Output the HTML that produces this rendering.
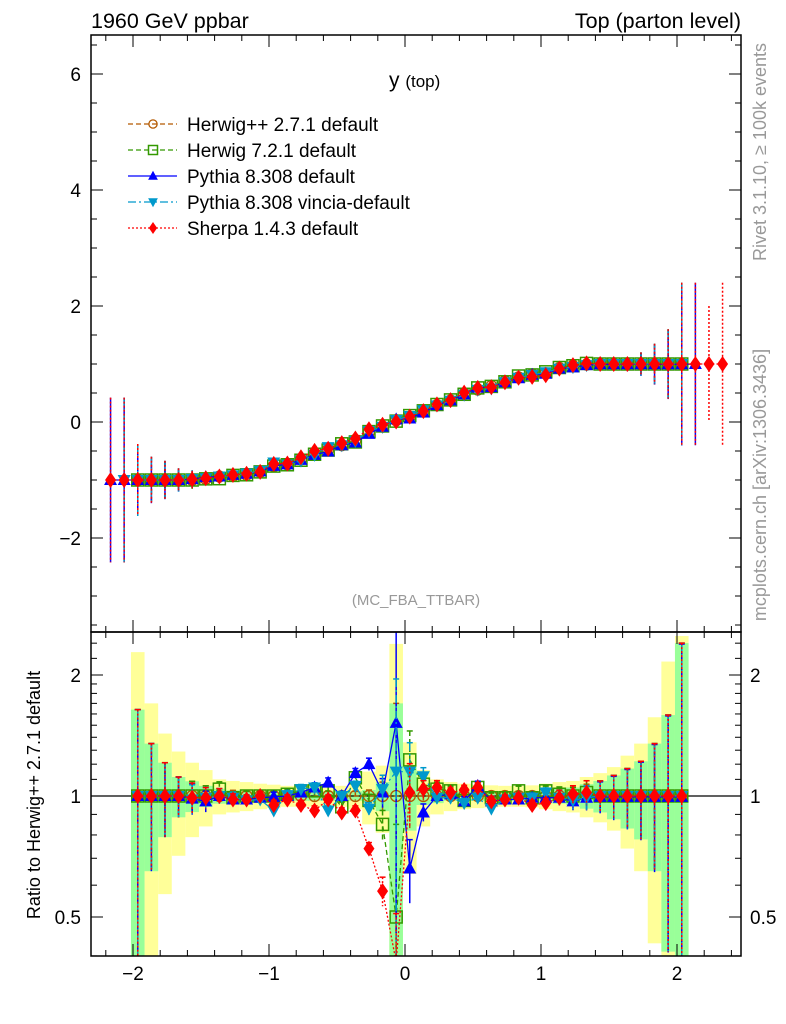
<!DOCTYPE html>
<html><head><meta charset="utf-8"><style>
html,body{margin:0;background:#fff;overflow:hidden;width:786px;height:1024px}
svg{display:block;font-family:"Liberation Sans",sans-serif}
</style></head><body>
<svg id="c" width="786" height="1024" viewBox="0 0 786 1024" xmlns="http://www.w3.org/2000/svg">
<defs>
<clipPath id="cm"><rect x="91" y="35" width="650" height="597"/></clipPath>
<clipPath id="cr"><rect x="91" y="632" width="650" height="324"/></clipPath>
</defs>
<text x="91" y="28" font-size="21.5">1960 GeV ppbar</text>
<text x="741" y="28" font-size="21.5" text-anchor="end">Top (parton level)</text>
<text x="389" y="87" font-size="21">y <tspan font-size="17">(top)</tspan></text>
<text x="416" y="605" font-size="15" fill="#999" text-anchor="middle">(MC_FBA_TTBAR)</text>
<text transform="translate(766,152) rotate(-90)" font-size="18" fill="#999" text-anchor="middle">Rivet 3.1.10, ≥ 100k events</text>
<text transform="translate(766,485) rotate(-90)" font-size="18" fill="#999" text-anchor="middle">mcplots.cern.ch [arXiv:1306.3436]</text>
<text transform="translate(40,795) rotate(-90)" font-size="18" text-anchor="middle">Ratio to Herwig++ 2.7.1 default</text>
<g id="bands" clip-path="url(#cr)"></g>
<g id="mainMarks" clip-path="url(#cm)"></g>
<g id="ratioMarks" clip-path="url(#cr)"></g>
<g id="axes"></g>
<g id="legend"></g>
</svg>
<script>
const binCenters=[-2.165,-2.065,-1.965,-1.865,-1.765,-1.665,-1.565,-1.465,-1.365,-1.265,-1.165,-1.065,-0.965,-0.865,-0.765,-0.665,-0.565,-0.465,-0.365,-0.265,-0.165,-0.065,0.035,0.135,0.235,0.335,0.435,0.535,0.635,0.735,0.835,0.935,1.035,1.135,1.235,1.335,1.435,1.535,1.635,1.735,1.835,1.935,2.035,2.135,2.235,2.335];
const profileValues=[-1,-1,-1,-1,-1,-1,-1,-0.98,-0.94,-0.93,-0.91,-0.86,-0.76,-0.73,-0.64,-0.54,-0.47,-0.40,-0.31,-0.17,-0.08,0.03,0.09,0.18,0.29,0.37,0.49,0.56,0.62,0.70,0.77,0.82,0.84,0.93,0.97,0.99,1,1,1,1,1,1,1,1,1,1];
const mainErr=[1.42,1.42,0.62,0.4,0.33,0.2,0.15,0.1,0.03,0.03,0.03,0.03,0.03,0.03,0.03,0.03,0.03,0.03,0.03,0.03,0.03,0.03,0.03,0.03,0.03,0.03,0.03,0.03,0.03,0.03,0.03,0.03,0.03,0.03,0.03,0.03,0.05,0.08,0.12,0.2,0.35,0.6,1.4,1.4,1.0,1.4];
// ratio arrays for bins k=2..42
const greenErr=[0.64,0.35,0.21,0.115,0.088,0.06,0.043,0.033,0.027,0.027,0.027,0.027,0.027,0.027,0.027,0.027,0.027,0.035,0.083,0.70,0.18,0.05,0.04,0.027,0.027,0.027,0.027,0.027,0.027,0.027,0.027,0.043,0.05,0.07,0.09,0.125,0.17,0.22,0.35,0.59,1.4];
const yellowErr=[1.28,0.70,0.43,0.29,0.21,0.16,0.10,0.09,0.083,0.073,0.067,0.06,0.06,0.06,0.06,0.06,0.073,0.15,0.19,1.39,0.36,0.16,0.10,0.083,0.073,0.067,0.063,0.06,0.06,0.063,0.073,0.083,0.09,0.115,0.14,0.18,0.26,0.35,0.57,1.16,1.5];
const ratioHerwigPP=[1,1,1,1,1,1,1,1,1,1,1,1,1,1,1,1,1,1,1,1,1,1,1,1,1,1,1,1,1,1,1,1,1,1,1,1,1,1,1,1,1];
const ratioHerwig7=[1,1,1,1,1,1,1.04,0.99,1,1,1,1.01,1.03,1.03,1.03,0.94,1.11,0.975,0.85,0.5,1.23,1.07,1.04,1.03,0.975,1.05,0.99,0.99,1.03,0.99,1.03,1.01,1,1.02,1,1,1,1,1,1,1];
const ratioPythia=[1,1,1,1,0.985,0.97,1,0.98,0.98,0.99,0.995,1,1.02,1.05,1.08,1,1.14,1.2,1.02,1.52,0.66,0.91,1,1.01,0.97,1.06,0.97,0.98,0.98,0.99,0.99,0.99,0.97,0.99,0.995,0.995,0.995,0.995,0.995,0.995,0.995];
const ratioVincia=[1,1,1,1,0.98,0.99,1,0.99,0.975,0.98,0.92,1.005,1.04,1.05,0.92,1,1.06,0.93,1.04,1.15,1.15,1.12,0.99,0.99,0.96,0.99,0.93,0.98,0.99,0.99,1.02,0.99,0.975,0.99,1,1,1,1,1,1,1];
const ratioSherpa=[1,1,1,1,0.99,0.99,1,0.98,0.98,1,0.95,0.98,0.95,0.92,0.98,0.91,0.92,0.74,0.58,0.3,1.02,1.04,1.05,1.02,1.035,1.05,0.97,0.98,0.99,0.95,0.96,0.99,1.01,1.02,1,1,1,1,1,1,1];
const refFirst=2, refLast=42;
const seriesNames=["Herwig++ 2.7.1 default","Herwig 7.2.1 default","Pythia 8.308 default","Pythia 8.308 vincia-default","Sherpa 1.4.3 default"];
const seriesRange=[[2,42],[2,42],[0,43],[1,42],[0,45]];
const xTicks=[-2,-1,0,1,2];
const mainYTicks=[6,4,2,0,-2];
const ratioYTicks=[2,1,0.5];

const ratios=[ratioHerwigPP,ratioHerwig7,ratioPythia,ratioVincia,ratioSherpa];
const styles=[
 {c:"#b35900",dash:"5,3",m:"circle"},
 {c:"#339900",dash:"5,3",m:"square"},
 {c:"#0000ff",dash:"",m:"tri"},
 {c:"#0099cc",dash:"8,3,2,3",m:"tridown"},
 {c:"#ff0000",dash:"2,2",m:"diamond"}];
const NS="http://www.w3.org/2000/svg";
const cl=(v,a,b)=>Math.min(b,Math.max(a,v));
const X=v=>405+136*v, YM=v=>cl(422-58*v,30,640), YR=r=>cl(796-121*Math.log2(Math.max(r,0.01)),628,962);
function el(tag,attrs,parent){const e=document.createElementNS(NS,tag);for(const k in attrs)e.setAttribute(k,attrs[k]);parent.appendChild(e);return e;}
function marker(g,type,x,y,col,s){
 s=s||1;let e;
 if(type==="circle"){e=el("circle",{cx:x,cy:y,r:5.5*s,fill:"none",stroke:col,"stroke-width":1.3},g);}
 else if(type==="square"){e=el("rect",{x:x-6*s,y:y-6*s,width:12*s,height:12*s,fill:"none",stroke:col,"stroke-width":1.5},g);}
 else if(type==="tri"){e=el("polygon",{points:`${x},${y-7*s} ${x-6.5*s},${y+5*s} ${x+6.5*s},${y+5*s}`,fill:col},g);}
 else if(type==="tridown"){e=el("polygon",{points:`${x},${y+7*s} ${x-6.5*s},${y-5*s} ${x+6.5*s},${y-5*s}`,fill:col},g);}
 else {e=el("polygon",{points:`${x},${y-8*s} ${x-5.5*s},${y} ${x},${y+8*s} ${x+5.5*s},${y}`,fill:col},g);}
 return e;
}
const bandsG=document.getElementById("bands");
for(let i=0;i<greenErr.length;i++){
 const k=i+refFirst, x0=X(binCenters[k]-0.05), x1=X(binCenters[k]+0.05);
 const yt=YR(1+yellowErr[i]), yb=YR(1-yellowErr[i]);
 const b=el("rect",{x:x0,y:yt,width:x1-x0,height:yb-yt,fill:"#ffff99"},bandsG);
 
 
}
for(let i=0;i<greenErr.length;i++){
 const k=i+refFirst, x0=X(binCenters[k]-0.05), x1=X(binCenters[k]+0.05);
 const yt=YR(1+greenErr[i]), yb=YR(1-greenErr[i]);
 const b=el("rect",{x:x0,y:yt,width:x1-x0,height:yb-yt,fill:"#99ff99"},bandsG);
 
 
}
const mainG=document.getElementById("mainMarks"), ratG=document.getElementById("ratioMarks");
el("line",{x1:91,x2:741,y1:796,y2:796,stroke:"#000","stroke-width":1.3},ratG);
for(let s=0;s<5;s++){
 const st=styles[s],[a,b]=seriesRange[s];
 const gm=el("g",{},mainG);  
 const gr=el("g",{},ratG);  
 const mpts=[], rpts=[];
 for(let k=a;k<=b;k++){
  const hasRef=k>=refFirst&&k<=refLast;
  const r=hasRef?ratios[s][k-refFirst]:1;
  const v=profileValues[k]*r, x=X(binCenters[k]);
  mpts.push([x,YM(v)]);
  const eb=el("line",{x1:x,x2:x,y1:YM(v+mainErr[k]),y2:YM(v-mainErr[k]),stroke:st.c,"stroke-width":1.5,"stroke-dasharray":st.dash},gm);
   
  if(hasRef){
   const e=greenErr[k-refFirst];
   rpts.push([x,YR(r)]);
   const re=el("line",{x1:x,x2:x,y1:YR(r*(1+e)),y2:YR(Math.max(r*(1-e),0.01)),stroke:st.c,"stroke-width":1.5,"stroke-dasharray":st.dash},gr);
    
   el("line",{x1:x-3,x2:x+3,y1:YR(r*(1+e)),y2:YR(r*(1+e)),stroke:st.c,"stroke-width":1.5},gr);
  }
 }
 const pl=el("polyline",{points:mpts.map(p=>p.join(",")).join(" "),fill:"none",stroke:st.c,"stroke-width":1.3,"stroke-dasharray":st.dash},gm);
  
 const rl=el("polyline",{points:rpts.map(p=>p.join(",")).join(" "),fill:"none",stroke:st.c,"stroke-width":1.3,"stroke-dasharray":st.dash},gr);
  
 mpts.forEach(p=>{const m=marker(gm,st.m,p[0],p[1],st.c);});
 rpts.forEach(p=>{const m=marker(gr,st.m,p[0],p[1],st.c);});
}
// axes
const ax=document.getElementById("axes");
const f1=el("rect",{x:91,y:35,width:650,height:597,fill:"none",stroke:"#000","stroke-width":1.5},ax);
 
const f2=el("rect",{x:91,y:632,width:650,height:324,fill:"none",stroke:"#000","stroke-width":1.5},ax);
 
function tk(x1,y1,x2,y2){el("line",{x1,y1,x2,y2,stroke:"#000","stroke-width":1},ax);}
for(let v=-2.2;v<=2.41;v+=0.2){
 const x=X(v), maj=xTicks.some(t=>Math.abs(t-v)<1e-6), L=maj?12:6;
 [[35,1],[632,-1],[632,1],[956,-1]].forEach(([y,d])=>tk(x,y,x,y+d*L));
}
xTicks.forEach(t=>{const e=el("text",{x:X(t),y:980,"font-size":19,"text-anchor":"middle"},ax);e.textContent=t<0?"\u2212"+(-t):String(t);});
for(let v=-3.5;v<=6.6;v+=0.5){
 const y=422-58*v, maj=mainYTicks.includes(v), L=maj?12:6;
 tk(91,y,91+L,y); tk(741,y,741-L,y);
}
mainYTicks.forEach(t=>{const e=el("text",{x:81,y:422-58*t+7,"font-size":19,"text-anchor":"end"},ax);e.textContent=t<0?"\u2212"+(-t):String(t);});
const rMinor=[0.4,0.6,0.7,0.8,0.9,1.1,1.2,1.3,1.4,1.5,1.6,1.7,1.8,1.9,2.2,2.4];
rMinor.forEach(r=>{const y=YR(r);tk(91,y,97,y);tk(741,y,735,y);});
ratioYTicks.forEach(t=>{const y=YR(t);tk(91,y,103,y);tk(741,y,729,y);
 const e=el("text",{x:81,y:y+7,"font-size":19,"text-anchor":"end"},ax);e.textContent=String(t);
 const e2=el("text",{x:750,y:y+7,"font-size":19},ax);e2.textContent=String(t);
});
// legend
const lg=document.getElementById("legend");
seriesNames.forEach((n,i)=>{
 const y=124+26*i, st=styles[i];
 const g=el("g",{},lg);  
 el("line",{x1:128,x2:177,y1:y,y2:y,stroke:st.c,"stroke-width":1.3,"stroke-dasharray":st.dash},g);
 marker(g,st.m,153,y,st.c,0.75);
 const t=el("text",{x:187,y:y+7,"font-size":19},g); t.textContent=n;
});
</script>
</body></html>
